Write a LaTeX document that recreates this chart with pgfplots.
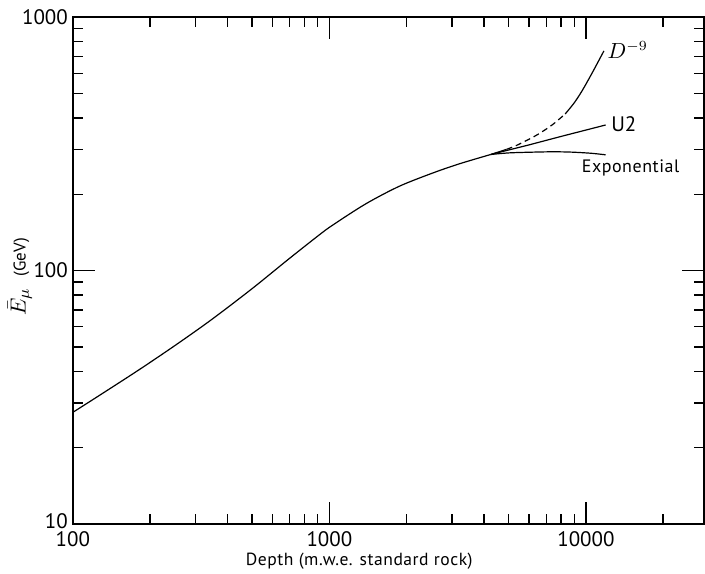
\documentclass[border=0pt]{standalone}
\usepackage{fontspec}
\setmainfont{PT Sans}
\newfontfamily\lblfont[LetterSpace=3]{PT Sans}
\usepackage{pgfplots}
\pgfplotsset{compat=1.18}
\usepackage{pgfplotstable}

\pgfplotstableread{
D E
100 27.6
127 32.2
181 40.6
252 50.9
349 64.3
500 84.9
693 110.9
906 137.4
1030 151.1
1389 183.5
1873 215.0
2524 242.3
3204 263.4
4257 286.9
}\maincurve

\pgfplotstableread{
D E
4257 286.9
6000 313
8000 338
11930 375
}\utwo

\pgfplotstableread{
D E
4257 286.9
5000 291
6180 293
7500 294
8845 293
10500 290
11930 286
}\expo

\pgfplotstableread{
D E
4257 286.9
4900 300.5
}\dnineA

\pgfplotstableread{
D E
4900 300.5
5325 310.5
6000 329.6
6560 346.3
7400 375.8
8300 414.4
}\dnineB

\pgfplotstableread{
D E
8300 414.4
9000 458.5
9675 512.9
10580 602.4
11750 735
}\dnineC

\begin{document}
\begin{tikzpicture}
\begin{axis}[
  name=ax,
  scale only axis,
  width=316pt, height=254pt,
  xmode=log, ymode=log,
  xmin=100, xmax=28800,
  ymin=10, ymax=1000,
  axis line style={line width=0.8pt},
  tick align=inside,
  major tick length=11pt,
  minor tick length=5pt,
  every tick/.style={black, line width=0.7pt},
  xtick={100,1000,10000},
  xticklabels={100,1000,10000},
  ytick={10,100,1000},
  yticklabels={{\raisebox{3.5pt}{10}},100,1000},
  minor xtick={200,300,400,500,600,700,800,900,2000,3000,4000,5000,6000,7000,8000,9000,20000},
  minor ytick={20,30,40,50,60,70,80,90,200,300,400,500,600,700,800,900},
  ticklabel style={font=\fontsize{10.5}{12}\selectfont},
  /pgf/number format/assume math mode=true,
  yticklabel style={xshift=1pt},
  xlabel={\lblfont Depth (m.w.e. standard rock)},
  xlabel style={at={(axis description cs:0.454,-0.073)}, anchor=center, font=\fontsize{8.8}{10}\selectfont},
  ylabel={$\bar{E}_{\mu}$\ \ {\fontsize{8.5}{9}\selectfont(GeV)}},
  ylabel style={at={(axis description cs:-0.084,0.488)}, anchor=center, font=\fontsize{11}{12}\selectfont},
  clip=false,
]
\addplot[black, line width=0.6pt, no marks, smooth] table[x=D, y=E] {\maincurve};
\addplot[black, line width=0.6pt, no marks] table[x=D, y=E] {\utwo};
\addplot[black, line width=0.6pt, no marks, smooth] table[x=D, y=E] {\expo};
\addplot[black, line width=0.6pt, no marks] table[x=D, y=E] {\dnineA};
\addplot[black, line width=0.6pt, no marks, dash pattern=on 3pt off 2pt, smooth] table[x=D, y=E] {\dnineB};
\addplot[black, line width=0.6pt, no marks, smooth] table[x=D, y=E] {\dnineC};
\node[anchor=west, inner sep=0.5pt, font=\fontsize{10.5}{12}\selectfont] at (axis cs:12000,740) {$D^{-9}$};
\node[anchor=west, inner sep=0.5pt, font=\fontsize{10.5}{12}\selectfont] at (axis cs:12400,378) {U2};
\node[anchor=center, inner sep=0pt, font=\fontsize{9}{10}\selectfont] at (axis cs:14930,254) {\lblfont Exponential};
\end{axis}
\pgfresetboundingbox
\path[use as bounding box] ([shift={(-36.5pt,-24.5pt)}]ax.south west) rectangle ([shift={(0.6pt,8.5pt)}]ax.north east);
\end{tikzpicture}
\end{document}
